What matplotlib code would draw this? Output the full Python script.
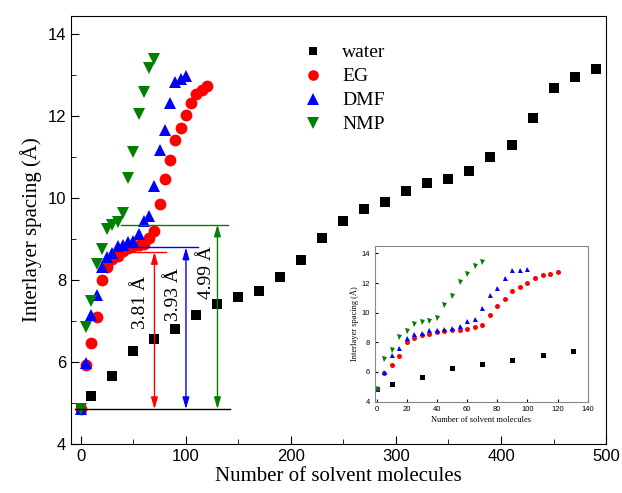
import matplotlib
matplotlib.use('Agg')
import matplotlib.pyplot as plt
from matplotlib.ticker import MultipleLocator

# Data
waterX = [0, 10, 30, 50, 70, 90, 110, 130, 150, 170, 190, 210, 230, 250, 270,
          290, 310, 330, 350, 370, 390, 410, 430, 450, 470, 490]
waterY = [4.85, 5.18, 5.67, 6.28, 6.56, 6.80, 7.15, 7.42, 7.59, 7.74, 8.07, 8.49, 9.04,
          9.45, 9.73, 9.92, 10.18, 10.37, 10.48, 10.66, 11.0, 11.3, 11.95, 12.7, 12.97, 13.15]

egX = list(range(0, 125, 5))
egY = [4.85, 5.93, 6.47, 7.10, 8.0, 8.32, 8.52, 8.59, 8.72, 8.79, 8.84, 8.86, 8.88,
       9.02, 9.2, 9.85, 10.46, 10.93, 11.43, 11.72, 12.03, 12.33, 12.55, 12.64, 12.74]

dmfX = list(range(0, 105, 5))
dmfY = [4.85, 5.98, 7.15, 7.64, 8.32, 8.57, 8.66, 8.84, 8.86, 8.93, 8.95, 9.13, 9.45,
        9.56, 10.3, 11.18, 11.66, 12.33, 12.85, 12.91, 12.98]

nmpX = list(range(0, 75, 5))
nmpY = [4.85, 6.86, 7.49, 8.39, 8.77, 9.26, 9.36, 9.43, 9.65, 10.5, 11.13, 12.06,
        12.6, 13.18, 13.39]

# Annotations: base line, plateau levels and where the double arrows sit
baseLevel = 4.85
baseSpan = [-6, 142]
plateaus = [
    # (level, line start, line end, arrow x, label, label x, label y, colour)
    (8.69, 46, 81, 70, '3.81 Å', 57, 7.45, 'red'),
    (8.80, 45, 111, 100, '3.93 Å', 88, 7.65, 'blue'),
    (9.36, 38, 140, 130, '4.99 Å', 120, 8.2, 'green'),
]

serif = ['Liberation Serif', 'DejaVu Serif']
sans = ['Liberation Sans', 'DejaVu Sans']

series = [
    ('water', waterX, waterY, 's', 'black', 7),
    ('EG', egX, egY, 'o', 'red', 8.5),
    ('DMF', dmfX, dmfY, '^', 'blue', 9),
    ('NMP', nmpX, nmpY, 'v', 'green', 9),
]


def styleTicks(ax, size, fontSize):
    ax.tick_params(which='both', direction='in', top=False, right=False, labelsize=fontSize)
    ax.tick_params(which='major', length=size)
    ax.tick_params(which='minor', length=size * 0.6)
    for label in ax.get_xticklabels() + ax.get_yticklabels():
        label.set_family(sans)


fig = plt.figure(figsize=(6.22, 4.93), dpi=100)
ax = fig.add_axes([0.1141, 0.0994, 0.8602, 0.868])

for name, xs, ys, marker, color, ms in series:
    ax.plot(xs, ys, linestyle='none', marker=marker, color=color, markersize=ms,
            markeredgewidth=0, label=name)

ax.plot(baseSpan, [baseLevel, baseLevel], color='black', lw=1)
for level, x0, x1, arrowX, text, textX, textY, color in plateaus:
    ax.plot([x0, x1], [level, level], color=color, lw=1)
    ax.annotate('', xy=(arrowX, level), xytext=(arrowX, baseLevel),
                arrowprops=dict(arrowstyle='<|-|>,head_length=0.7,head_width=0.2',
                                color=color, lw=1, shrinkA=0, shrinkB=0))
    ax.text(textX, textY, text, rotation=90, ha='center', va='center',
            fontsize=14, family=serif)

ax.set_xlim(-9.5, 500)
ax.set_ylim(4, 14.45)
ax.xaxis.set_major_locator(MultipleLocator(100))
ax.xaxis.set_minor_locator(MultipleLocator(50))
ax.yaxis.set_major_locator(MultipleLocator(2))
ax.yaxis.set_minor_locator(MultipleLocator(1))
styleTicks(ax, 6, 12)
ax.set_xlabel('Number of solvent molecules', fontsize=15, family=serif, labelpad=2)
ax.set_ylabel('Interlayer spacing (Å)', fontsize=15, family=serif, labelpad=4)

ax.legend(loc='upper left', bbox_to_anchor=(0.475, 0.927), bbox_transform=fig.transFigure,
          frameon=False, borderaxespad=0, handlelength=1.0, handletextpad=1.0,
          labelspacing=0.33, markerscale=0.9, prop={'family': serif, 'size': 14})

# Inset with the first 140 molecules
inset = fig.add_axes([0.603, 0.1854, 0.342, 0.3156])
for name, xs, ys, marker, color, ms in series:
    inset.plot(xs, ys, linestyle='none', marker=marker, color=color, markersize=3.6,
               markeredgewidth=0)
inset.set_xlim(-1, 140)
inset.set_ylim(4, 14.5)
inset.xaxis.set_major_locator(MultipleLocator(20))
inset.yaxis.set_major_locator(MultipleLocator(2))
styleTicks(inset, 2, 5.5)
for spine in inset.spines.values():
    spine.set_color('#888888')
    spine.set_linewidth(0.8)
inset.set_xlabel('Number of solvent molecules', fontsize=6, family=serif, labelpad=2)
inset.set_ylabel('Interlayer spacing (Å)', fontsize=6, family=serif, labelpad=2)

fig.savefig('out.png', dpi=100)
